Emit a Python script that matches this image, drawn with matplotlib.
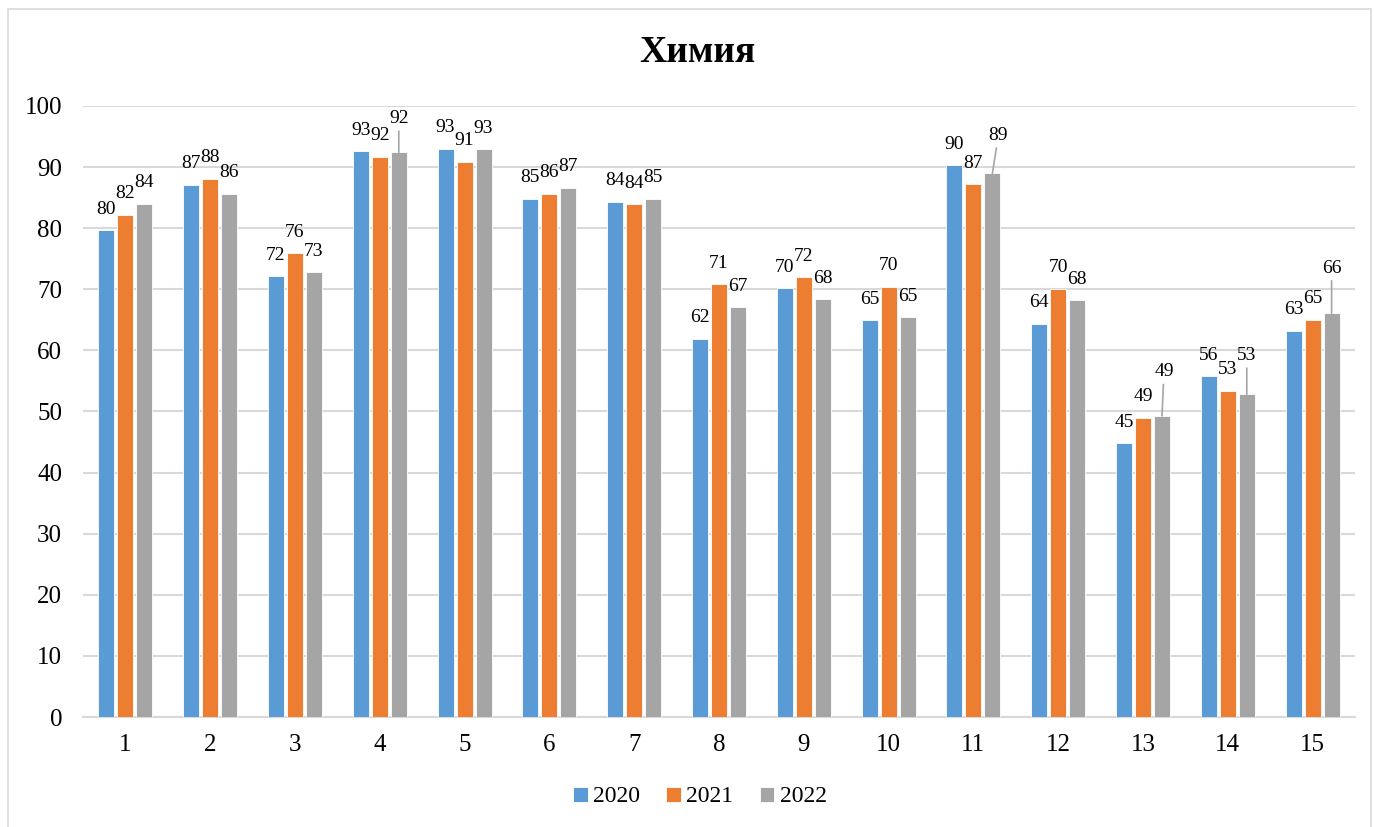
import numpy as np
import matplotlib.pyplot as plt
from matplotlib.patches import Rectangle

plt.rcParams['font.family'] = ['Liberation Serif', 'DejaVu Serif']

# Data
categories = [str(i) for i in range(1, 16)]
years = ['2020', '2021', '2022']
v2020 = [79.7, 87.1, 72.1, 92.6, 93.0, 84.8, 84.3, 61.9, 70.2, 64.9, 90.3, 64.4, 44.8, 55.8, 63.2]
v2021 = [82.2, 88.1, 75.9, 91.7, 90.9, 85.6, 83.9, 70.8, 72.0, 70.4, 87.2, 70.1, 49.0, 53.4, 65.0]
v2022 = [84.0, 85.6, 72.8, 92.4, 92.9, 86.6, 84.8, 67.1, 68.4, 65.4, 89.0, 68.2, 49.3, 52.8, 66.1]
colors = ['#5B9BD5', '#ED7D31', '#A5A5A5']

# labels that were pushed up with a leader line (group, series): (dx px, extra dy px)
callouts = {(3, 2): (0, 13), (10, 2): (6, 17), (12, 2): (2, 23), (13, 2): (0, 18), (14, 2): (0, 24)}

fig = plt.figure(figsize=(13.74, 8.27), dpi=100)
ax = fig.add_axes([83 / 1374, 1 - 717 / 827, (1355 - 83) / 1374, (717 - 106) / 827])

# outer chart border
fig.patches.append(Rectangle((8 / 1374, -0.01), (1371 - 8) / 1374, 1 - 9 / 827 + 0.01,
                             transform=fig.transFigure, fill=False, edgecolor='#D9D9D9', lw=1.2))

x = np.arange(len(categories))
step = 0.224
width = 0.19
series = [v2020, v2021, v2022]
for i, vals in enumerate(series):
    pos = x + (i - 1) * step
    ax.bar(pos, vals, width=width, color=colors[i], edgecolor='white', linewidth=0.6,
           label=years[i], zorder=3)
    for j, v in enumerate(vals):
        dx, dy = callouts.get((j, i), (0, 0))
        if (j, i) in callouts:
            ax.annotate(f'{v:.0f}', xy=(pos[j], v), xytext=(dx * 0.72, (21 + dy) * 0.72),
                        textcoords='offset points', ha='center', va='center', fontsize=14,
                        arrowprops=dict(arrowstyle='-', color='#A5A5A5', lw=1.2,
                                        shrinkA=1, shrinkB=0), zorder=4)
        else:
            ax.annotate(f'{v:.0f}', xy=(pos[j], v), xytext=(0, 21 * 0.72),
                        textcoords='offset points', ha='center', va='center', fontsize=14, zorder=4)

ax.set_xlim(-0.5, len(categories) - 0.5)
ax.set_ylim(0, 100)
ax.set_yticks(np.arange(0, 101, 10))
ax.set_xticks(x)
ax.set_xticklabels(categories)
ax.tick_params(axis='both', length=0, labelsize=18)
ax.tick_params(axis='y', pad=15)
ax.tick_params(axis='x', pad=12)
ax.grid(axis='y', color='#D9D9D9', lw=1.5, zorder=0)
for s in ['top', 'right', 'left']:
    ax.spines[s].set_visible(False)
ax.spines['bottom'].set_color('#D9D9D9')
ax.spines['bottom'].set_linewidth(1.5)

fig.text(697 / 1374, 1 - 52 / 827, 'Химия', ha='center', va='center', fontsize=27, fontweight='bold')

fig.legend(loc='center', bbox_to_anchor=(700 / 1374, 1 - 797 / 827), ncol=3, frameon=False,
           fontsize=17, handlelength=0.6, handleheight=0.6, handletextpad=0.25, columnspacing=1.1)

fig.savefig('out.png', dpi=100)
